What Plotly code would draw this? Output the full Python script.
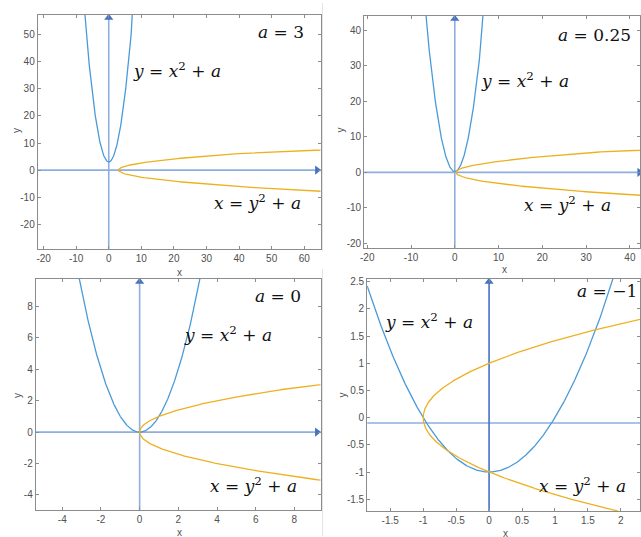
import numpy as np
import plotly.graph_objects as go

# ---- data ----
a_values = [3, 0.25, 0, -1]
a_labels = ["3", "0.25", "0", "\u22121"]
x_ranges = [[-21.8, 65.0], [-20.7, 42.3], [-5.37, 9.35], [-1.85, 2.29]]
y_ranges = [[-29.2, 57.3], [-21.3, 44.0], [-4.97, 9.75], [-1.72, 2.55]]
x_ticks = [[-20, -10, 0, 10, 20, 30, 40, 50, 60],
           [-20, -10, 0, 10, 20, 30, 40],
           [-4, -2, 0, 2, 4, 6, 8],
           [-1.5, -1, -0.5, 0, 0.5, 1, 1.5, 2]]
y_ticks = [[-20, -10, 0, 10, 20, 30, 40, 50],
           [-20, -10, 0, 10, 20, 30, 40],
           [-4, -2, 0, 2, 4, 6, 8],
           [-1.5, -1, -0.5, 0, 0.5, 1, 1.5, 2, 2.5]]
h_axis_y = [0, 0, 0, -0.1]
v_axis_x = [0, 0, 0, 0]

# ---- layout (page pixels) ----
W, H = 641, 537
boxes = [(34, 319, 12, 248), (363, 641, 13, 247), (32, 319, 278, 511), (366, 641, 278, 512)]
label_a = [(254, 29), (556, 32), (251, 295), (575, 290)]
label_y = [(128, 67), (479, 78), (179, 333), (382, 320)]
label_x = [(210, 200), (522, 203), (206, 486), (537, 486)]
xtitle_pos = [(177, 272), (504, 268), (177, 533), (505, 534)]
ytitle_pos = [(12, 128), (339, 128), (13, 395), (341, 395)]

BLUE = "#4A9AD8"
ORANGE = "#EDB120"
AXLINE = "#8FAEE0"
ARROW = "#4472C4"
FRAME = "#8C8C8C"
TICKC = "#505050"
MATHFONT = dict(family="DejaVu Serif", size=17, color="#111111")


def fx(px):
    return px / W


def fy(py):
    return 1 - py / H


fig = go.Figure()
annotations = []
for i in range(4):
    sfx = "" if i == 0 else str(i + 1)
    xa, ya = "x" + sfx, "y" + sfx
    a = a_values[i]
    x0, x1, y0, y1 = boxes[i]
    xr, yr = x_ranges[i], y_ranges[i]

    # coordinate axes lines
    fig.add_trace(go.Scatter(x=[xr[0], xr[1]], y=[h_axis_y[i]] * 2, mode="lines",
                             line=dict(color=AXLINE, width=1.6), xaxis=xa, yaxis=ya,
                             showlegend=False, hoverinfo="skip"))
    fig.add_trace(go.Scatter(x=[v_axis_x[i]] * 2, y=[yr[0], yr[1]], mode="lines",
                             line=dict(color=ARROW if i == 3 else AXLINE, width=1.6),
                             xaxis=xa, yaxis=ya, showlegend=False, hoverinfo="skip"))

    # parabola y = x^2 + a
    xs = np.linspace(xr[0], xr[1], 800)
    fig.add_trace(go.Scatter(x=xs, y=xs ** 2 + a, mode="lines",
                             line=dict(color=BLUE, width=1.3), xaxis=xa, yaxis=ya,
                             showlegend=False))
    # parabola x = y^2 + a
    ys = np.linspace(yr[0], yr[1], 800)
    fig.add_trace(go.Scatter(x=ys ** 2 + a, y=ys, mode="lines",
                             line=dict(color=ORANGE, width=1.3), xaxis=xa, yaxis=ya,
                             showlegend=False))

    # arrow heads
    xspan = xr[1] - xr[0]
    yspan = yr[1] - yr[0]
    fig.add_trace(go.Scatter(x=[v_axis_x[i]], y=[yr[1] - yspan * 0.012], mode="markers",
                             marker=dict(symbol="triangle-up", size=8, color=ARROW),
                             xaxis=xa, yaxis=ya, showlegend=False, cliponaxis=False,
                             hoverinfo="skip"))
    if i in (0, 2):
        fig.add_trace(go.Scatter(x=[xr[1] - xspan * 0.012], y=[h_axis_y[i]], mode="markers",
                                 marker=dict(symbol="triangle-right", size=8, color=ARROW),
                                 xaxis=xa, yaxis=ya, showlegend=False, cliponaxis=False,
                                 hoverinfo="skip"))
    elif i == 1:
        fig.add_trace(go.Scatter(x=[xr[1] - xspan * 0.002], y=[h_axis_y[i]], mode="markers",
                                 marker=dict(symbol="triangle-right", size=8, color=ARROW),
                                 xaxis=xa, yaxis=ya, showlegend=False, cliponaxis=False,
                                 hoverinfo="skip"))

    common = dict(showgrid=False, zeroline=False, showline=True, linecolor=FRAME,
                  linewidth=1, mirror="allticks", ticks="inside", ticklen=3,
                  tickcolor=FRAME, tickwidth=1,
                  tickfont=dict(family="Liberation Sans", size=10, color=TICKC))
    fig.layout["xaxis" + sfx] = dict(domain=[fx(x0), min(fx(x1), 1.0)], range=xr,
                                     anchor=ya, tickmode="array", tickvals=x_ticks[i],
                                     ticktext=["%g" % v for v in x_ticks[i]], **common)
    fig.layout["yaxis" + sfx] = dict(domain=[fy(y1), fy(y0)], range=yr,
                                     anchor=xa, tickmode="array", tickvals=y_ticks[i],
                                     ticktext=["%g" % v for v in y_ticks[i]], **common)

    def ann(text, pos, font, anchor="left", angle=0):
        annotations.append(dict(text=text, x=fx(pos[0]), y=fy(pos[1]), xref="paper",
                                yref="paper", xanchor=anchor, yanchor="middle",
                                showarrow=False, font=font, textangle=angle))

    ann("<i>a</i> = " + a_labels[i], label_a[i], MATHFONT)
    ann("<i>y</i> = <i>x</i><sup>2</sup> + <i>a</i>", label_y[i], MATHFONT)
    ann("<i>x</i> = <i>y</i><sup>2</sup> + <i>a</i>", label_x[i], MATHFONT)
    ann("x", xtitle_pos[i], dict(family="Liberation Sans", size=10, color=TICKC), anchor="center")
    ann("y", ytitle_pos[i], dict(family="Liberation Sans", size=10, color=TICKC), anchor="center", angle=-90)

shapes = [
    dict(type="line", xref="paper", yref="paper", x0=fx(321), x1=fx(321), y0=fy(250), y1=1,
         line=dict(color="#E4E4E4", width=1)),
    dict(type="line", xref="paper", yref="paper", x0=fx(321), x1=fx(321), y0=0, y1=fy(268),
         line=dict(color="#E4E4E4", width=1)),
]

fig.update_layout(width=W, height=H, margin=dict(l=0, r=0, t=0, b=0),
                  paper_bgcolor="white", plot_bgcolor="white",
                  annotations=annotations, shapes=shapes, showlegend=False)

fig.write_html("out.html", config={"displayModeBar": False},
               post_script="document.body.style.margin='0';document.body.style.overflow='hidden';")
